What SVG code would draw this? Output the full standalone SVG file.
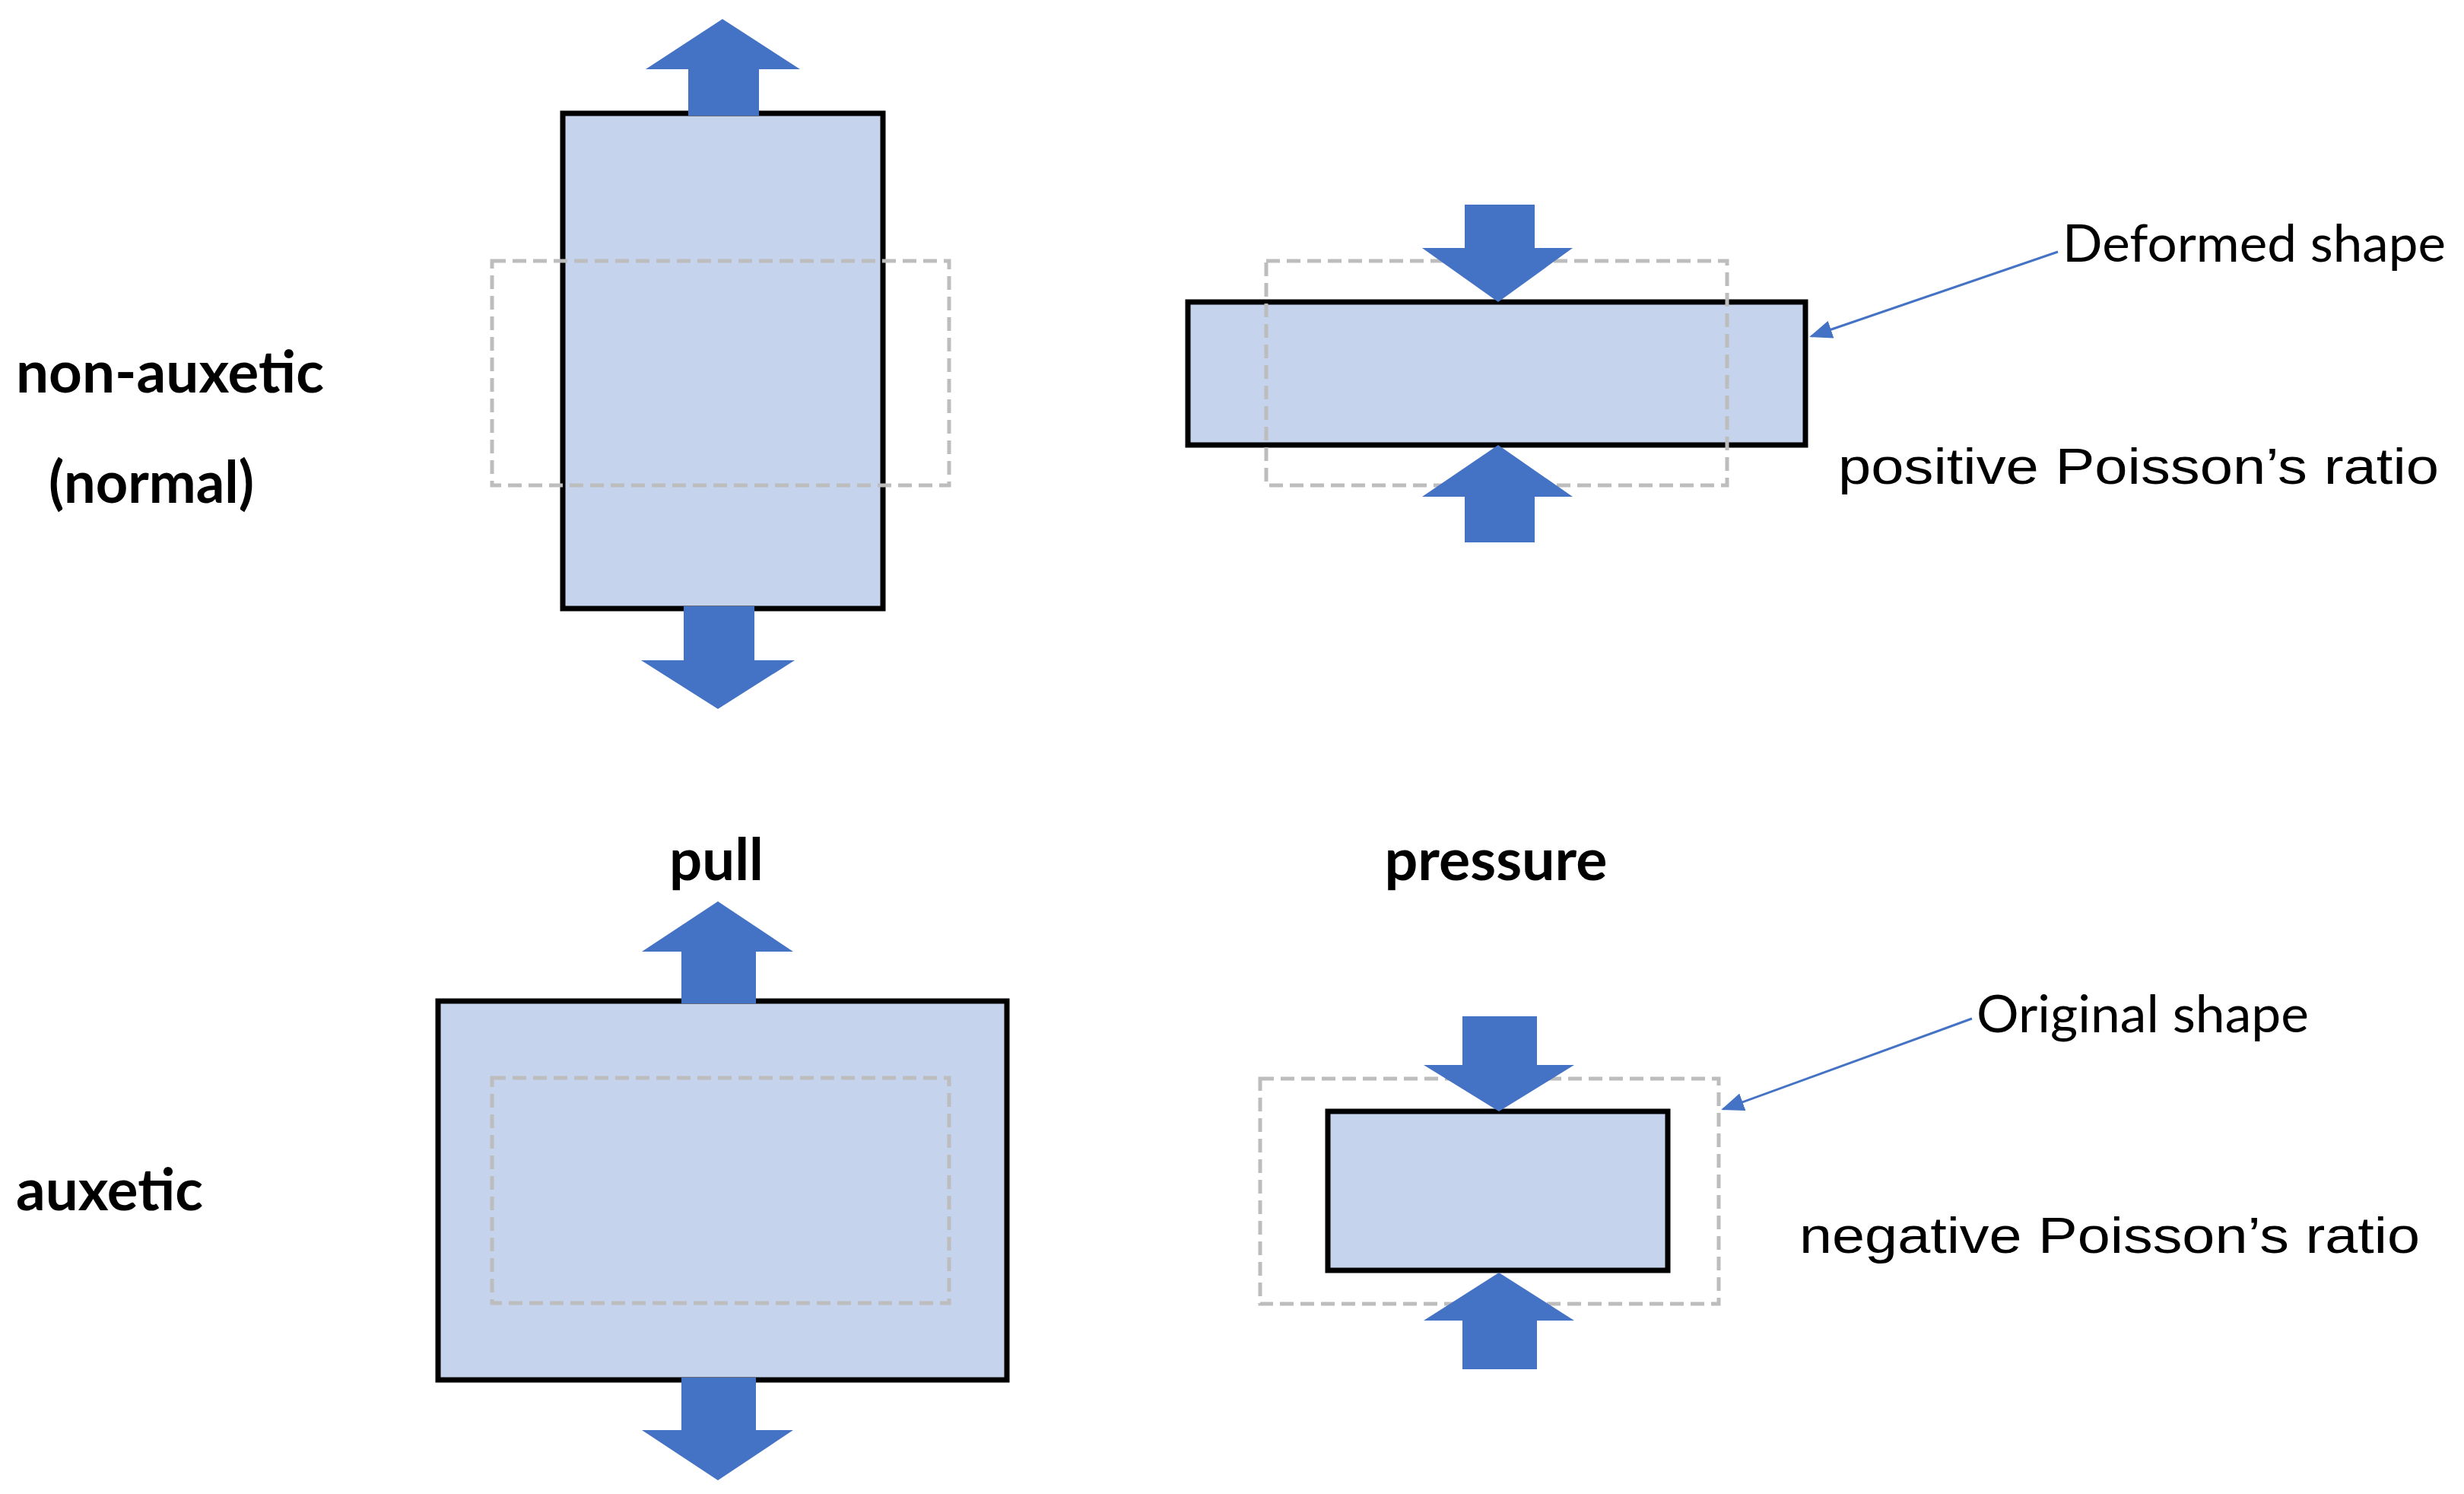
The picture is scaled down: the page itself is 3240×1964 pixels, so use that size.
<svg xmlns="http://www.w3.org/2000/svg" width="3240" height="1964" viewBox="0 0 3240 1964">
<defs>
<style>
.solid{fill:#c5d3ec;stroke:#000;stroke-width:7}
.dash{fill:none;stroke:#bdbdbd;stroke-width:5;stroke-dasharray:18 9}
.arr{fill:#4472c4}
.lbl{font-family:Lato,"Liberation Sans",sans-serif;font-weight:bold;font-size:76px;fill:#000}
.note{font-family:Lato,"Liberation Sans",sans-serif;font-size:68px;fill:#000}
.ratio{font-family:"Liberation Sans",Arial,sans-serif;font-size:66px;fill:#000}
.lead{stroke:#4472c4;stroke-width:3;fill:none}
</style>
<marker id="ah" markerWidth="10" markerHeight="8" refX="9" refY="4" orient="auto" markerUnits="strokeWidth"><path d="M0,0 L10,4 L0,8 Z" fill="#4472c4"/></marker>
</defs>
<rect width="3240" height="1964" fill="#fff"/>
<g id="nonauxetic-pull">
<rect class="solid" x="740" y="149" width="421" height="651"/>
<rect class="dash" x="647" y="343" width="601" height="295"/>
<polygon class="arr" points="950,25 1052,91 998,91 998,152 905,152 905,91 849,91"/>
<polygon class="arr" points="899,797 992,797 992,868 1045,868 944,932 843,868 899,868"/>
</g>
<g id="nonauxetic-pressure">
<rect class="solid" x="1562" y="397" width="812" height="188"/>
<rect class="dash" x="1665" y="343" width="606" height="295"/>
<polygon class="arr" points="1926,269 2018,269 2018,326 2068,326 1970,397 1870,326 1926,326"/>
<polygon class="arr" points="1970,585 2068,653 2018,653 2018,713 1926,713 1926,653 1870,653"/>
</g>
<g id="auxetic-pull">
<rect class="solid" x="576" y="1316" width="748" height="498"/>
<rect class="dash" x="647" y="1417" width="601" height="296"/>
<polygon class="arr" points="944,1185 1043,1251 994,1251 994,1319 896,1319 896,1251 844,1251"/>
<polygon class="arr" points="896,1811 994,1811 994,1880 1043,1880 944,1946 844,1880 896,1880"/>
</g>
<g id="auxetic-pressure">
<rect class="dash" x="1657" y="1418" width="603" height="296"/>
<rect class="solid" x="1746" y="1461" width="447" height="209"/>
<polygon class="arr" points="1923,1336 2021,1336 2021,1400 2070,1400 1971,1461 1872,1400 1923,1400"/>
<polygon class="arr" points="1971,1673 2070,1736 2021,1736 2021,1800 1923,1800 1923,1736 1872,1736"/>
</g>
<g id="connectors">
<line class="lead" x1="2706" y1="331" x2="2382" y2="442" marker-end="url(#ah)"/>
<line class="lead" x1="2593" y1="1339" x2="2266" y2="1458" marker-end="url(#ah)"/>
</g>
<g id="labels">
<text class="lbl" x="21" y="516" textLength="405" lengthAdjust="spacingAndGlyphs">non-auxetic</text>
<text class="lbl" x="64" y="661" font-size="64" textLength="270" lengthAdjust="spacingAndGlyphs">(normal)</text>
<text class="lbl" x="21" y="1591" textLength="246" lengthAdjust="spacingAndGlyphs">auxetic</text>
<text class="lbl" x="942" y="1157" text-anchor="middle">pull</text>
<text class="lbl" x="1967" y="1157" text-anchor="middle" textLength="293" lengthAdjust="spacingAndGlyphs">pressure</text>
<text class="note" x="2712" y="344" textLength="504" lengthAdjust="spacingAndGlyphs">Deformed shape</text>
<text class="note" x="2599" y="1357" textLength="437" lengthAdjust="spacingAndGlyphs">Original shape</text>
<text class="ratio" x="2417" y="636" textLength="790" lengthAdjust="spacingAndGlyphs">positive Poisson’s ratio</text>
<text class="ratio" x="2366" y="1647" textLength="816" lengthAdjust="spacingAndGlyphs">negative Poisson’s ratio</text>
</g>
</svg>
